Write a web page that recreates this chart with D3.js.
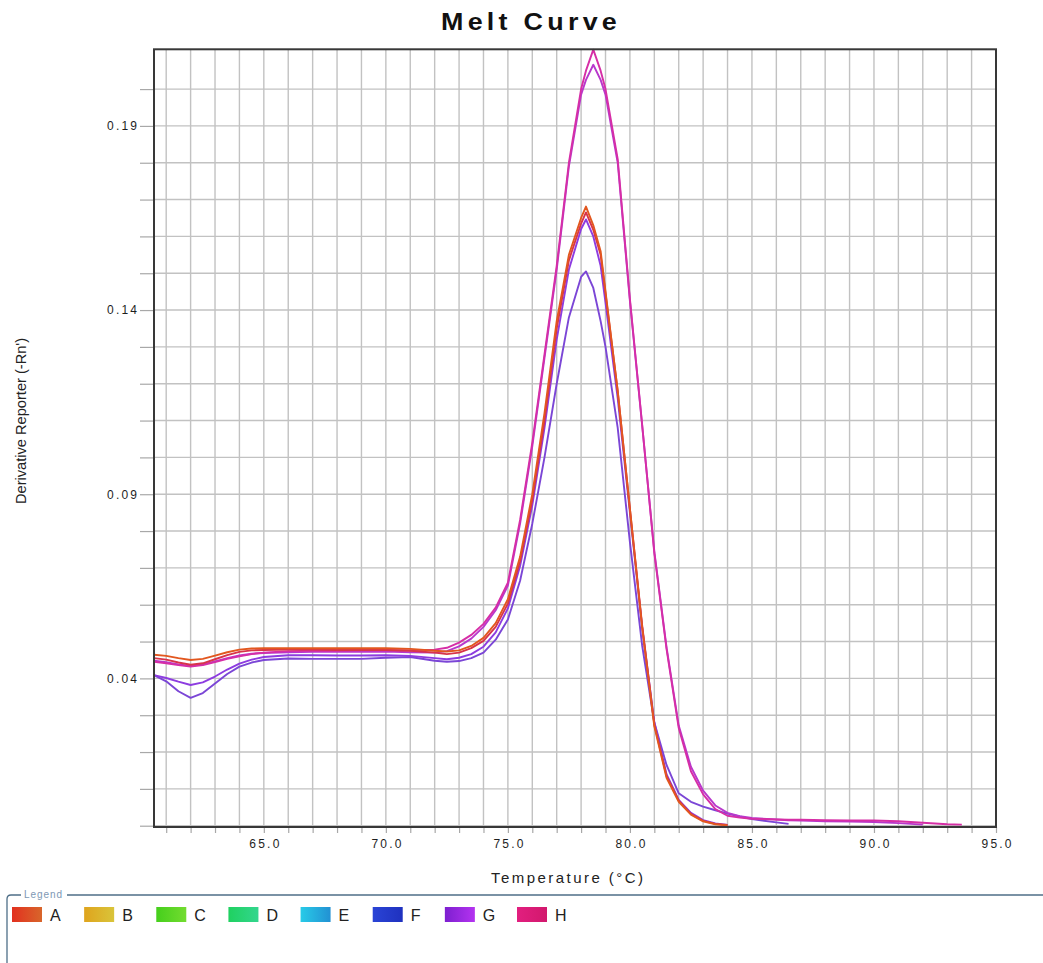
<!DOCTYPE html>
<html>
<head>
<meta charset="utf-8">
<script src="https://cdn.jsdelivr.net/npm/d3@7"></script>
<style>
  html, body { margin: 0; padding: 0; background: #ffffff; }
  svg { display: block; }
  text { font-family: "Liberation Sans", Arial, sans-serif; }
</style>
</head>
<body>
<svg id="chart" width="1043" height="963"></svg>
<script>
// Melt temperatures (°C) shared by every well trace
const temps = [60.5, 61, 61.5, 62, 62.5, 63, 63.5, 64, 64.5, 65, 66, 67, 68, 69, 70, 71,
  72, 72.5, 73, 73.5, 74, 74.5, 75, 75.5, 76, 76.5, 77, 77.5, 78, 78.2, 78.5, 78.8, 79,
  79.5, 80, 80.5, 81, 81.5, 82, 82.5, 83, 83.5, 84, 84.5, 85, 86, 86.5, 87, 88, 89, 90,
  91, 92, 93, 93.6];

// Derivative reporter (-Rn') per well, aligned with temps (null = no reading)
const wellA1 = [0.0464, 0.0461, 0.0455, 0.0450, 0.0453, 0.0462, 0.0471, 0.0478, 0.0481, 0.0482,
  0.0482, 0.0482, 0.0482, 0.0482, 0.0482, 0.0480, 0.0475, 0.0473, 0.0476, 0.0488, 0.0510,
  0.0550, 0.0615, 0.0730, 0.0900, 0.1120, 0.1370, 0.1550, 0.1650, 0.1681, 0.1630, 0.1560,
  0.1450, 0.1180, 0.0860, 0.0540, 0.0270, 0.0130, 0.0065, 0.0030, 0.0012, 0.0004, 0.0001,
  null, null, null, null, null, null, null, null, null, null, null, null];
const wellA2 = [0.0455, 0.0451, 0.0443, 0.0437, 0.0441, 0.0452, 0.0463, 0.0472, 0.0476, 0.0477,
  0.0478, 0.0478, 0.0477, 0.0477, 0.0477, 0.0475, 0.0470, 0.0466, 0.0470, 0.0482, 0.0502,
  0.0540, 0.0603, 0.0718, 0.0885, 0.1100, 0.1350, 0.1535, 0.1635, 0.1665, 0.1618, 0.1550,
  0.1445, 0.1180, 0.0860, 0.0545, 0.0275, 0.0135, 0.0068, 0.0032, 0.0013, 0.0005, 0.0002,
  null, null, null, null, null, null, null, null, null, null, null, null];
const wellH1 = [0.0445, 0.0441, 0.0436, 0.0432, 0.0436, 0.0444, 0.0453, 0.0460, 0.0466, 0.0470,
  0.0474, 0.0475, 0.0475, 0.0476, 0.0477, 0.0476, 0.0478, 0.0483, 0.0497, 0.0518, 0.0548,
  0.0592, 0.0660, 0.0830, 0.1040, 0.1280, 0.1520, 0.1800, 0.2000, 0.2050, 0.2107, 0.2050,
  0.2000, 0.1810, 0.1430, 0.1090, 0.0740, 0.0480, 0.0265, 0.0148, 0.0085, 0.0045, 0.0027,
  0.0022, 0.0019, 0.0017, 0.0016, 0.0016, 0.0015, 0.0014, 0.0014, 0.0012, 0.0008, 0.0004, 0.0003];
const wellH2 = [0.0448, 0.0444, 0.0438, 0.0434, 0.0438, 0.0446, 0.0455, 0.0462, 0.0467, 0.0469,
  0.0471, 0.0472, 0.0472, 0.0472, 0.0473, 0.0471, 0.0470, 0.0474, 0.0487, 0.0508, 0.0540,
  0.0585, 0.0652, 0.0820, 0.1030, 0.1270, 0.1510, 0.1790, 0.1985, 0.2025, 0.2066, 0.2025,
  0.1985, 0.1800, 0.1425, 0.1088, 0.0745, 0.0485, 0.0272, 0.0160, 0.0095, 0.0055, 0.0035,
  0.0026, 0.0021, 0.0017, 0.0015, 0.0014, 0.0012, 0.0011, 0.0010, 0.0007, 0.0003, null, null];
const wellG1 = [0.0409, 0.0401, 0.0391, 0.0382, 0.0389, 0.0405, 0.0424, 0.0440, 0.0451, 0.0458,
  0.0463, 0.0463, 0.0462, 0.0462, 0.0463, 0.0461, 0.0455, 0.0452, 0.0456, 0.0466, 0.0486,
  0.0525, 0.0590, 0.0705, 0.0870, 0.1080, 0.1320, 0.1510, 0.1620, 0.1646, 0.1600, 0.1520,
  0.1420, 0.1160, 0.0850, 0.0540, 0.0280, 0.0140, 0.0070, 0.0035, 0.0015, 0.0006, 0.0002,
  null, null, null, null, null, null, null, null, null, null, null, null];
const wellG2 = [0.0409, 0.0392, 0.0365, 0.0347, 0.0360, 0.0386, 0.0412, 0.0432, 0.0443, 0.0450,
  0.0454, 0.0453, 0.0453, 0.0453, 0.0456, 0.0458, 0.0448, 0.0445, 0.0447, 0.0455, 0.0470,
  0.0505, 0.0560, 0.0665, 0.0820, 0.1000, 0.1200, 0.1380, 0.1490, 0.1505, 0.1460, 0.1370,
  0.1300, 0.1080, 0.0770, 0.0490, 0.0280, 0.0165, 0.0088, 0.0065, 0.0052, 0.0042, 0.0033,
  0.0025, 0.0018, 0.0009, 0.0005, null, null, null, null, null, null, null, null];

// Axis tick labels
const xTickLabels = [65, 70, 75, 80, 85, 90, 95];
const yTickLabels = [0.04, 0.09, 0.14, 0.19];

// Legend entries (well rows) and their swatch gradients
const legendWells = ["A", "B", "C", "D", "E", "F", "G", "H"];
const legendColors = [
  ["#e2301f", "#d8662b"], ["#dfa41d", "#d9c43a"], ["#45cf1c", "#73dc30"], ["#1fd160", "#33d68e"],
  ["#28cbe8", "#2291d3"], ["#2a44d6", "#1f31bf"], ["#7d1fd0", "#b433f0"], ["#e21f7f", "#d2186d"]
];

const traces = [
  { well: "G2", color: "#7b46d6", values: wellG2 },
  { well: "G1", color: "#8d3ce0", values: wellG1 },
  { well: "H2", color: "#b838cc", values: wellH2 },
  { well: "H1", color: "#d62ea6", values: wellH1 },
  { well: "A2", color: "#d8344a", values: wellA2 },
  { well: "A1", color: "#e2571f", values: wellA1 }
];

const svg = d3.select("#chart");
const W = 1043, H = 963;
const plot = { left: 154, right: 996, top: 49.3, bottom: 827 };

const x = d3.scaleLinear().domain([60.5, 95]).range([plot.left, plot.right]);
const y = d3.scaleLinear().domain([-0.00035, 0.2108]).range([plot.bottom, plot.top]);

svg.append("rect").attr("width", W).attr("height", H).attr("fill", "#ffffff");

// Grid: every 1 °C and every 0.01 units
const gridX = d3.range(61, 95, 1);
const gridY = d3.range(0, 21, 1).map(i => i / 100);
const grid = svg.append("g").attr("stroke", "#c2c2c2").attr("stroke-width", 1.4);
grid.selectAll("line.gx").data(gridX).join("line")
  .attr("x1", d => x(d)).attr("x2", d => x(d))
  .attr("y1", plot.top).attr("y2", plot.bottom);
grid.selectAll("line.gy").data(gridY).join("line")
  .attr("x1", plot.left).attr("x2", plot.right)
  .attr("y1", d => y(d)).attr("y2", d => y(d));

// Axes
const xMajor = new Set(xTickLabels);
const xAxis = d3.axisBottom(x)
  .tickValues(d3.range(61, 96, 1))
  .tickSize(6)
  .tickPadding(8)
  .tickFormat(d => (xMajor.has(d) ? d.toFixed(1) : ""));
const gx = svg.append("g").attr("transform", `translate(0,${plot.bottom})`).call(xAxis);
gx.select(".domain").remove();
gx.selectAll(".tick line").attr("stroke", "#a8a8a8").attr("stroke-width", 1.2);
gx.selectAll(".tick text")
  .attr("fill", "#1e1e1e").attr("font-size", 12).attr("letter-spacing", "2.2px")
  .attr("dx", "1.1px").attr("dy", "0.6em");

const yMajor = new Set(yTickLabels.map(v => Math.round(v * 100)));
const yAxis = d3.axisLeft(y)
  .tickValues(gridY)
  .tickSize(14)
  .tickPadding(3)
  .tickFormat(d => (yMajor.has(Math.round(d * 100)) ? d.toFixed(2) : ""));
const gy = svg.append("g").attr("transform", `translate(${plot.left},0)`).call(yAxis);
gy.select(".domain").remove();
gy.selectAll(".tick line").attr("stroke", "#a8a8a8").attr("stroke-width", 1.2);
gy.selectAll(".tick text")
  .attr("fill", "#1e1e1e").attr("font-size", 12).attr("letter-spacing", "2.2px")
  .attr("dx", "2.2px");

// Melt traces
svg.append("defs").append("clipPath").attr("id", "plotClip")
  .append("rect")
  .attr("x", plot.left).attr("y", plot.top - 1)
  .attr("width", plot.right - plot.left).attr("height", plot.bottom - plot.top + 1);

const line = d3.line()
  .defined(d => d[1] !== null)
  .x(d => x(d[0]))
  .y(d => y(d[1]))
  .curve(d3.curveLinear);

svg.append("g").attr("clip-path", "url(#plotClip)")
  .selectAll("path").data(traces).join("path")
  .attr("fill", "none")
  .attr("stroke", d => d.color)
  .attr("stroke-width", 1.9)
  .attr("stroke-linejoin", "round")
  .attr("d", d => line(temps.map((t, i) => [t, d.values[i]])));

// Plot frame
svg.append("rect")
  .attr("x", plot.left).attr("y", plot.top)
  .attr("width", plot.right - plot.left).attr("height", plot.bottom - plot.top)
  .attr("fill", "none").attr("stroke", "#383838").attr("stroke-width", 2);

// Titles
svg.append("text")
  .attr("transform", "translate(441,30) scale(1.12,1)")
  .attr("font-size", 24).attr("font-weight", "bold").attr("fill", "#111")
  .attr("textLength", 157).attr("lengthAdjust", "spacing")
  .text("Melt Curve");

svg.append("text")
  .attr("x", 491).attr("y", 883)
  .attr("font-size", 15).attr("fill", "#222")
  .attr("textLength", 152).attr("lengthAdjust", "spacing")
  .text("Temperature (°C)");

svg.append("text")
  .attr("transform", "translate(26,504) rotate(-90)")
  .attr("font-size", 15).attr("fill", "#222")
  .attr("textLength", 166).attr("lengthAdjust", "spacingAndGlyphs")
  .text("Derivative Reporter (-Rn')");

// Legend panel
const legendTop = 895;
svg.append("path")
  .attr("d", `M${W + 2},${legendTop} L11,${legendTop} Q7,${legendTop} 7,${legendTop + 4} L7,${H + 2}`)
  .attr("fill", "none").attr("stroke", "#4f6f88").attr("stroke-width", 1.3);
svg.append("rect").attr("x", 21).attr("y", legendTop - 6).attr("width", 46).attr("height", 12).attr("fill", "#fff");
svg.append("text")
  .attr("x", 24).attr("y", legendTop + 3)
  .attr("font-size", 10).attr("fill", "#7d98b4")
  .attr("textLength", 38).attr("lengthAdjust", "spacing")
  .text("Legend");

const defs = svg.select("defs");
legendColors.forEach((c, i) => {
  const g = defs.append("linearGradient").attr("id", `lg${i}`)
    .attr("x1", "0%").attr("x2", "100%").attr("y1", "0%").attr("y2", "0%");
  g.append("stop").attr("offset", "0%").attr("stop-color", c[0]);
  g.append("stop").attr("offset", "100%").attr("stop-color", c[1]);
});

const lx = d3.scalePoint().domain(legendWells).range([12, 517]);
const items = svg.append("g").selectAll("g").data(legendWells).join("g")
  .attr("transform", d => `translate(${lx(d)},907)`);
items.append("rect")
  .attr("width", 30).attr("height", 15)
  .attr("fill", (d, i) => `url(#lg${i})`);
items.append("text")
  .attr("x", 38).attr("y", 13.5)
  .attr("font-size", 16).attr("fill", "#222")
  .text(d => d);
</script>
</body>
</html>
